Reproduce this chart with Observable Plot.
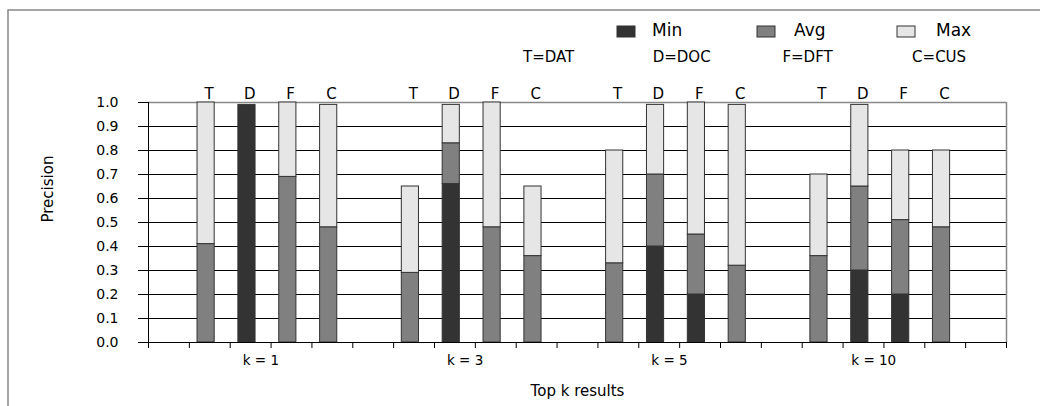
<!DOCTYPE html>
<html>
<head>
<meta charset="utf-8">
<script src="https://cdn.jsdelivr.net/npm/d3@7"></script>
<script src="https://cdn.jsdelivr.net/npm/@observablehq/plot@0.6"></script>
<style>
  html, body { margin: 0; padding: 0; background: #fff; }
  #wrap { position: relative; width: 1040px; height: 406px; overflow: hidden; font-family: "DejaVu Sans", sans-serif; }
  #wrap svg { position: absolute; left: 0; top: 0; }
  #overlay { pointer-events: none; }
</style>
</head>
<body>
<div id="wrap"></div>
<script>
// ---- data ----
const groups = ["k = 1", "k = 3", "k = 5", "k = 10"];
const methods = ["T", "D", "F", "C"];
const methodCodes = ["T=DAT", "D=DOC", "F=DFT", "C=CUS"];
const seriesNames = ["Min", "Avg", "Max"];
const seriesColors = ["#333333", "#808080", "#e6e6e6"];
// rows: groups (k = 1, 3, 5, 10); columns: methods (T, D, F, C)
const minVals = [
  [0.00, 0.99, 0.00, 0.00],
  [0.00, 0.66, 0.00, 0.00],
  [0.00, 0.40, 0.20, 0.00],
  [0.00, 0.30, 0.20, 0.00]
];
const avgVals = [
  [0.41, 0.99, 0.69, 0.48],
  [0.29, 0.83, 0.48, 0.36],
  [0.33, 0.70, 0.45, 0.32],
  [0.36, 0.65, 0.51, 0.48]
];
const maxVals = [
  [1.00, 0.99, 1.00, 0.99],
  [0.65, 0.99, 1.00, 0.65],
  [0.80, 0.99, 1.00, 0.99],
  [0.70, 0.99, 0.80, 0.80]
];
const yTicks = [0.0, 0.1, 0.2, 0.3, 0.4, 0.5, 0.6, 0.7, 0.8, 0.9, 1.0];
const yLabel = "Precision";
const xLabel = "Top k results";

// ---- build table ----
const slotsPerGroup = methods.length + 1;
const nSlots = groups.length * slotsPerGroup + 1;
const bars = [];
const segs = [];
groups.forEach((g, gi) => {
  methods.forEach((m, mi) => {
    const slot = gi * slotsPerGroup + 1 + mi;
    const vals = [minVals[gi][mi], avgVals[gi][mi], maxVals[gi][mi]];
    bars.push({group: g, method: m, slot});
    let prev = 0;
    vals.forEach((v, si) => {
      if (v > prev) segs.push({slot, series: seriesNames[si], y1: prev, y2: v});
      prev = Math.max(prev, v);
    });
  });
});
const boxL = 0.2, boxR = 0.62;

const chart = Plot.plot({
  width: 1040,
  height: 406,
  marginLeft: 148,
  marginRight: 34,
  marginTop: 102,
  marginBottom: 64,
  style: {fontFamily: "DejaVu Sans, sans-serif", color: "#000", background: "transparent"},
  x: {domain: [0, nSlots], axis: null},
  y: {domain: [0, 1], axis: null},
  color: {domain: seriesNames, range: seriesColors},
  marks: [
    Plot.ruleY(yTicks.filter(t => t > 0 && t < 1), {stroke: "#000", strokeWidth: 1}),
    Plot.ruleY([1], {stroke: "#888", strokeWidth: 1.5}),
    Plot.ruleX([nSlots], {stroke: "#888", strokeWidth: 1.5}),
    Plot.rectY(segs, {
      x1: d => d.slot + boxL, x2: d => d.slot + boxR,
      y1: "y1", y2: "y2", fill: "series",
      stroke: "#333", strokeWidth: 1, inset: 0
    }),
    Plot.ruleY([0], {stroke: "#000", strokeWidth: 1}),
    Plot.ruleX([0], {stroke: "#000", strokeWidth: 1}),
    Plot.axisY(yTicks, {tickSize: 10, tickPadding: 20, tickFormat: d3.format(".1f"), fontSize: 14, label: null, stroke: "#000"}),
    Plot.axisX(d3.range(nSlots + 1), {tickSize: 6, tickFormat: () => "", label: null, stroke: "#000"}),
    Plot.text(bars, {x: d => d.slot + 0.48, frameAnchor: "top", dy: -14, text: "method", fontSize: 15, fill: "#000"}),
    Plot.text(groups, {x: (d, i) => i * slotsPerGroup + 2.75, frameAnchor: "bottom", dy: 22, text: d => d, fontSize: 13.5, fill: "#000"}),
    Plot.text([xLabel], {frameAnchor: "bottom", dy: 53, text: d => d, fontSize: 15, fill: "#000"}),
    Plot.text([yLabel], {frameAnchor: "left", dx: -100, rotate: -90, text: d => d, fontSize: 15, fill: "#000"})
  ]
});
document.getElementById("wrap").appendChild(chart);

// ---- legend / figure frame overlay ----
const ov = d3.select("#wrap").append("svg").attr("id", "overlay")
  .attr("width", 1040).attr("height", 406)
  .style("font-family", "DejaVu Sans, sans-serif");
ov.append("path").attr("d", "M8,406V10H1040").attr("fill", "none").attr("stroke", "#888").attr("stroke-width", 1.5);
const lg = ov.selectAll("g.item").data(seriesNames).join("g").attr("class", "item");
lg.append("rect").attr("x", (d, i) => 617 + i * 140).attr("y", 26).attr("width", 18).attr("height", 11)
  .attr("fill", (d, i) => seriesColors[i]).attr("stroke", "#333").attr("stroke-width", 1);
lg.append("text").attr("x", (d, i) => 652 + i * 142).attr("y", 36).attr("font-size", 17).text(d => d);
ov.selectAll("text.code").data(methodCodes).join("text").attr("class", "code")
  .attr("x", (d, i) => 523 + i * 129.7).attr("y", 62).attr("font-size", 15).text(d => d);
</script>
</body>
</html>
